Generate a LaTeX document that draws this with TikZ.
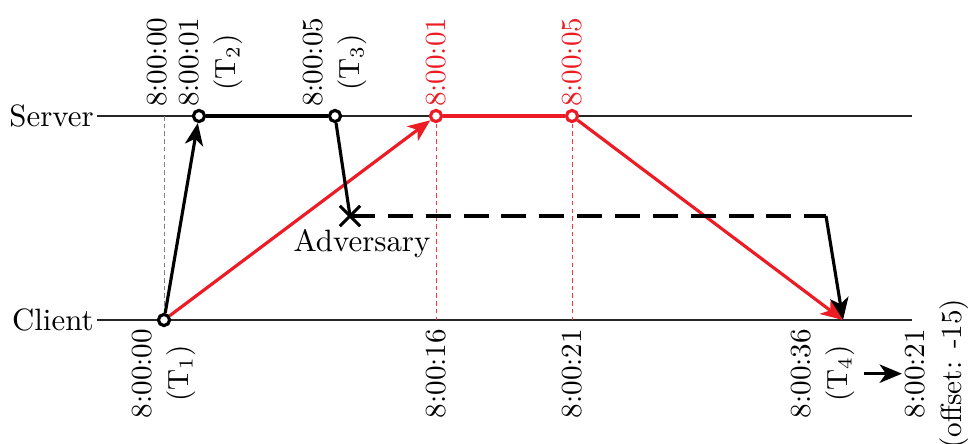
\documentclass[tikz,border=0pt]{standalone}
\usetikzlibrary{arrows.meta,shapes.misc,calc}
\definecolor{myred}{RGB}{237,28,36}
\pgfdeclarelayer{bg}
\pgfsetlayers{bg,main}
\begin{document}
\begin{tikzpicture}[x=0.35pt,y=-0.35pt,
  axis/.style={line width=0.5pt, black!85},
  pt/.style={circle,draw,fill=white,line width=1.1pt,inner sep=0pt,minimum size=3.9pt},
  msg/.style={line width=1.1pt,-{Stealth[length=7.8pt,width=6.4pt,inset=2.2pt]}},
  plain/.style={line width=1.1pt},
  tlab/.style={rotate=90,align=center,font=\fontsize{10.2}{12.8}\selectfont,inner sep=3pt},
  word/.style={font=\fontsize{10.8}{13}\selectfont},
  guide/.style={line width=0.35pt,dash pattern=on 1.6pt off 1.1pt},
]
\useasboundingbox (0,0) rectangle (968,444);
% axes
\node[word,anchor=east,inner sep=1pt] (srv) at (97,116) {Server};
\node[word,anchor=east,inner sep=1pt] (cli) at (97,320) {Client};
\coordinate (srvend) at (912,116);
\coordinate (cliend) at (912,320);
% points
\node[pt] (t1) at (164,320) {};
\node[pt] (t2) at (199,116) {};
\node[pt] (t3) at (335,116) {};
\node[pt,draw=myred] (r1) at (436,116) {};
\node[pt,draw=myred] (r2) at (572,116) {};
\coordinate (t4) at (843,320);
\coordinate (g0) at (164,116);
\coordinate (r1b) at (436,320);
\coordinate (r2b) at (572,320);
\coordinate (c) at (826,216);
\node[cross out,draw,line width=1.1pt,minimum size=6pt,inner sep=0pt] (adv) at (350,216) {};
\node[word,anchor=north,inner sep=1pt] (advlab) at (362,226) {Adversary};
\begin{pgfonlayer}{bg}
\draw[axis] (srv) -- (srvend);
\draw[axis] (cli) -- (cliend);
\draw[guide,gray] (g0) -- (t1.center);
\draw[guide,myred!85] (r1.center) -- (r1b);
\draw[guide,myred!85] (r2.center) -- (r2b);
\draw[msg,myred] (t1) -- (r1);
\draw[plain,myred] (r1) -- (r2);
\draw[msg,myred] (r2) -- (t4);
\draw[msg] (t1) -- (t2);
\draw[plain] (t2) -- (t3);
\draw[plain] (t3) -- (adv.center);
\draw[plain,dash pattern=on 8.75pt off 4.5pt] (adv.center) -- (c);
\draw[msg] (c) -- (t4);
\end{pgfonlayer}
% labels
\node[tlab,anchor=west] (l0) at ($(g0)+(-7,0)$) {8:00:00};
\node[tlab,anchor=west] (l1) at ($(t2.center)+(12,0)$) {8:00:01\\(T$_2$)};
\node[tlab,anchor=west] (l2) at (t3.center) {8:00:05\\(T$_3$)};
\node[tlab,anchor=west,text=myred] (l3) at (r1.center) {8:00:01};
\node[tlab,anchor=west,text=myred] (l4) at (r2.center) {8:00:05};
\node[tlab,anchor=east] (b1) at (t1.center) {8:00:00\\(T$_1$)};
\node[tlab,anchor=east] (b2) at (r1b) {8:00:16};
\node[tlab,anchor=east] (b3) at (r2b) {8:00:21};
\node[tlab,anchor=east] (b4) at ($(t4)+(-20,0)$) {8:00:36\\(T$_4$)};
\node[tlab,inner sep=1pt] (off) at ($(b4.center)+(114,0)$) {8:00:21\\(offset: -15)};
\draw[msg] (b4) -- (off);
\end{tikzpicture}
\end{document}
